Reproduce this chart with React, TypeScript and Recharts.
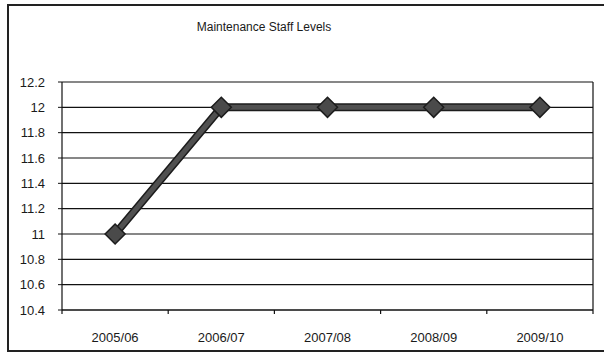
import React from 'react';
import { LineChart, Line, XAxis, YAxis, CartesianGrid } from 'recharts';

const years = ['2005/06', '2006/07', '2007/08', '2008/09', '2009/10'];
const staffLevels = [11, 12, 12, 12, 12];
const yTicks = [10.4, 10.6, 10.8, 11, 11.2, 11.4, 11.6, 11.8, 12, 12.2];

const data = years.map((year, i) => ({ year, staff: staffLevels[i] }));

const FONT = 'Arial, "Liberation Sans", sans-serif';

const Diamond = (props: any) => {
  const { cx, cy } = props;
  if (cx == null || cy == null) return null;
  const r = 10;
  return (
    <polygon
      points={`${cx},${cy - r} ${cx + r},${cy} ${cx},${cy + r} ${cx - r},${cy}`}
      fill="#4a4a4a"
      stroke="#1c1c1c"
      strokeWidth={1.5}
    />
  );
};

const XTick = (props: any) => {
  const { x, y, payload, index } = props;
  const half = payload.offset || 53;
  return (
    <g>
      <line x1={x - half} x2={x - half} y1={y} y2={y + 4} stroke="#111" strokeWidth={1.2} />
      {index === years.length - 1 && (
        <line x1={x + half} x2={x + half} y1={y} y2={y + 4} stroke="#111" strokeWidth={1.2} />
      )}
      <text x={x} y={y + 32} textAnchor="middle" fill="#1a1a1a" fontSize={13} fontFamily={FONT}>
        {payload.value}
      </text>
    </g>
  );
};

export default function App() {
  return (
    <div style={{ position: 'absolute', left: 0, top: 0, width: 604, height: 360, overflow: 'hidden', background: '#fff' }}>
      <div
        style={{
          position: 'absolute',
          left: 7,
          top: 4,
          width: 620,
          height: 348,
          border: '2px solid #222',
          boxSizing: 'border-box',
        }}
      />
      <div
        style={{
          position: 'absolute',
          left: 164,
          width: 200,
          top: 20,
          textAlign: 'center',
          fontFamily: FONT,
          fontSize: 12,
          color: '#1a1a1a',
        }}
      >
        Maintenance Staff Levels
      </div>
      <div style={{ position: 'absolute', left: 0, top: 0 }}>
        <LineChart width={604} height={360} data={data} margin={{ top: 82, right: 0, bottom: 0, left: 0 }}>
          <CartesianGrid yAxisId="l" horizontal vertical={false} stroke="#111" strokeWidth={1.2} />
          <XAxis
            dataKey="year"
            scale="band"
            height={50}
            axisLine={{ stroke: '#111', strokeWidth: 1.2 }}
            tickLine={false}
            tickSize={0}
            tickMargin={0}
            tick={<XTick />}
            interval={0}
          />
          <YAxis
            yAxisId="l"
            domain={[10.4, 12.2]}
            ticks={yTicks}
            width={62}
            axisLine={{ stroke: '#111', strokeWidth: 1.2 }}
            tickLine={{ stroke: '#111' }}
            tickSize={4}
            tickMargin={13}
            tickFormatter={(v: number) => String(Number(v.toFixed(1)))}
            tick={{ fill: '#1a1a1a', fontSize: 13, fontFamily: FONT }}
          />
          <YAxis
            yAxisId="r"
            orientation="right"
            domain={[10.4, 12.2]}
            ticks={yTicks}
            width={11}
            tick={false}
            tickLine={false}
            axisLine={{ stroke: '#111', strokeWidth: 1.2 }}
          />
          <Line
            yAxisId="l"
            dataKey="staff"
            stroke="#1c1c1c"
            strokeWidth={8}
            dot={false}
            activeDot={false}
            legendType="none"
            isAnimationActive={false}
          />
          <Line
            yAxisId="l"
            dataKey="staff"
            stroke="#505050"
            strokeWidth={5}
            dot={<Diamond />}
            activeDot={false}
            isAnimationActive={false}
          />
        </LineChart>
      </div>
    </div>
  );
}
